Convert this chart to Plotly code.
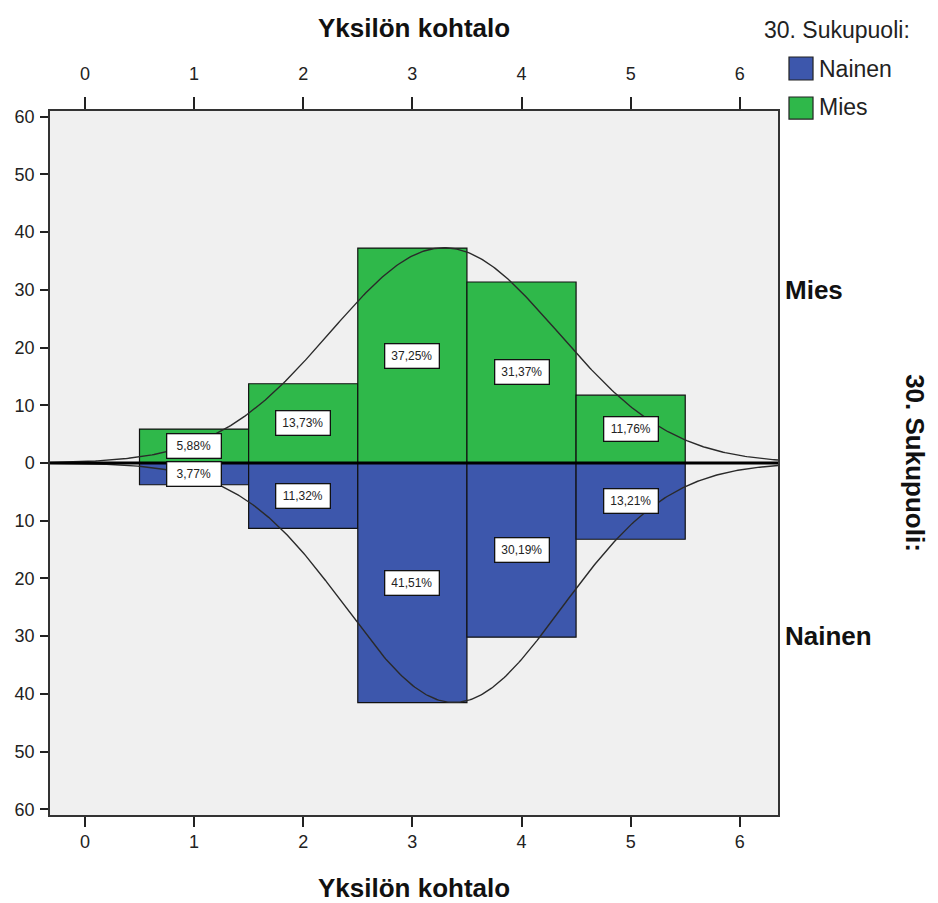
import numpy as np
import plotly.graph_objects as go

# ---- data ----
categories = [1, 2, 3, 4, 5]
mies_pct = [5.88, 13.73, 37.25, 31.37, 11.76]
nainen_pct = [3.77, 11.32, 41.51, 30.19, 13.21]
mies_labels = ["5,88%", "13,73%", "37,25%", "31,37%", "11,76%"]
nainen_labels = ["3,77%", "11,32%", "41,51%", "30,19%", "13,21%"]
x_ticks = [0, 1, 2, 3, 4, 5, 6]
y_ticks = [-60, -50, -40, -30, -20, -10, 0, 10, 20, 30, 40, 50, 60]
y_ticktext = ["60", "50", "40", "30", "20", "10", "0", "10", "20", "30", "40", "50", "60"]
# fitted normal curves (mean, sd, peak height in %)
mies_fit = dict(mean=3.29, sd=1.045, peak=37.3)
nainen_fit = dict(mean=3.38, sd=0.985, peak=41.5)

GREEN = "#2FB84A"
BLUE = "#3D57AC"
FONT = "Liberation Sans, Arial, sans-serif"
XR = [-0.32, 6.35]
YR = [-61, 61]

fig = go.Figure()
fig.add_trace(go.Bar(x=categories, y=mies_pct, width=1, name="Mies",
                     marker=dict(color=GREEN, line=dict(color="#111", width=1.2)),
                     showlegend=False, hoverinfo="skip"))
fig.add_trace(go.Bar(x=categories, y=[-v for v in nainen_pct], width=1, name="Nainen",
                     marker=dict(color=BLUE, line=dict(color="#111", width=1.2)),
                     showlegend=False, hoverinfo="skip"))

xs = np.linspace(XR[0], XR[1], 400)
def curve(p):
    return p["peak"] * np.exp(-0.5 * ((xs - p["mean"]) / p["sd"]) ** 2)
fig.add_trace(go.Scatter(x=xs, y=curve(mies_fit), mode="lines", xaxis="x2",
                         line=dict(color="#2a2a2a", width=1.4), showlegend=False, hoverinfo="skip"))
fig.add_trace(go.Scatter(x=xs, y=-curve(nainen_fit), mode="lines", xaxis="x2",
                         line=dict(color="#2a2a2a", width=1.4), showlegend=False, hoverinfo="skip"))

annotations = []
for c, v, t in zip(categories, mies_pct, mies_labels):
    annotations.append(dict(x=c, y=v / 2, text=t, showarrow=False, xref="x", yref="y",
                            font=dict(family=FONT, size=12, color="#222"),
                            bgcolor="white", bordercolor="#111", borderwidth=1.3,
                            width=51, height=21))
for c, v, t in zip(categories, nainen_pct, nainen_labels):
    annotations.append(dict(x=c, y=-v / 2, text=t, showarrow=False, xref="x", yref="y",
                            font=dict(family=FONT, size=12, color="#222"),
                            bgcolor="white", bordercolor="#111", borderwidth=1.3,
                            width=51, height=21))

# titles
annotations += [
    dict(text="<b>Yksilön kohtalo</b>", x=0.5, y=1.118, xref="paper", yref="paper",
         showarrow=False, font=dict(family=FONT, size=26, color="#111"), yanchor="middle"),
    dict(text="<b>Yksilön kohtalo</b>", x=0.5, y=-0.1037, xref="paper", yref="paper",
         showarrow=False, font=dict(family=FONT, size=26, color="#111"), yanchor="middle"),
    dict(text="<b>30. Sukupuoli:</b>", x=1.188, y=0.5, xref="paper", yref="paper",
         showarrow=False, textangle=90, font=dict(family=FONT, size=26, color="#111"),
         xanchor="center", yanchor="middle"),
    dict(text="<b>Mies</b>", x=1.0, y=30, xref="paper", yref="y", xshift=5,
         showarrow=False, xanchor="left", yanchor="middle",
         font=dict(family=FONT, size=26, color="#111")),
    dict(text="<b>Nainen</b>", x=1.0, y=-30, xref="paper", yref="y", xshift=5,
         showarrow=False, xanchor="left", yanchor="middle",
         font=dict(family=FONT, size=26, color="#111")),
    # legend
    dict(text="30. Sukupuoli:", x=0.978, y=1.115, xref="paper", yref="paper",
         showarrow=False, xanchor="left", yanchor="middle",
         font=dict(family=FONT, size=23, color="#222")),
    dict(text="Nainen", x=1.0535, y=1.0595, xref="paper", yref="paper",
         showarrow=False, xanchor="left", yanchor="middle",
         font=dict(family=FONT, size=23, color="#222")),
    dict(text="Mies", x=1.0535, y=1.0055, xref="paper", yref="paper",
         showarrow=False, xanchor="left", yanchor="middle",
         font=dict(family=FONT, size=23, color="#222")),
]

shapes = [
    dict(type="line", xref="paper", yref="y", x0=0, x1=1, y0=0, y1=0,
         line=dict(color="black", width=3), layer="above"),
    dict(type="rect", xref="paper", yref="paper", x0=1.0151, x1=1.0481, y0=1.0440, y1=1.0767,
         fillcolor=BLUE, line=dict(color="#222", width=1.2)),
    dict(type="rect", xref="paper", yref="paper", x0=1.0151, x1=1.0481, y0=0.9886, y1=1.0199,
         fillcolor=GREEN, line=dict(color="#222", width=1.2)),
]

axis_common = dict(range=XR, tickvals=x_ticks, ticks="outside", tickwidth=1.5,
                   tickcolor="#222", showgrid=False, zeroline=False, automargin=False,
                   tickfont=dict(family=FONT, size=18, color="#222"),
                   showline=True, linecolor="#333", linewidth=1.5)

# page body has an 8px margin, so the figure is offset by 8px; compensate
fig.update_layout(
    width=930, height=895,
    margin=dict(l=42, r=160, t=103, b=88, autoexpand=False),
    paper_bgcolor="white", plot_bgcolor="#F0F0F0",
    barmode="overlay", showlegend=False,
    xaxis=dict(side="top", ticklen=12, ticklabelstandoff=10, mirror=False, **axis_common),
    xaxis2=dict(side="bottom", overlaying="x", anchor="y", matches="x",
                ticklen=10, ticklabelstandoff=0, **axis_common),
    yaxis=dict(range=YR, tickvals=y_ticks, ticktext=y_ticktext, ticks="outside",
               ticklen=8, tickwidth=1.5, tickcolor="#222", showgrid=False, zeroline=False,
               automargin=False,
               tickfont=dict(family=FONT, size=18, color="#222"), ticklabelstandoff=2,
               showline=True, linecolor="#333", linewidth=1.5, mirror=True),
    annotations=annotations, shapes=shapes,
)

fig.write_html("out.html")
